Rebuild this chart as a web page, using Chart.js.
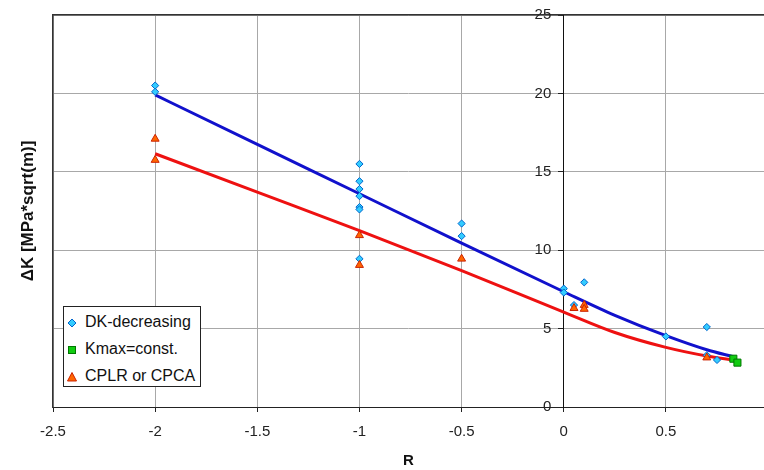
<!DOCTYPE html>
<html>
<head>
<meta charset="utf-8">
<script src="https://cdn.jsdelivr.net/npm/chart.js@4/dist/chart.umd.min.js"></script>
<style>
  body { margin: 0; background: #fff; }
  #wrap { position: relative; width: 764px; height: 470px; }
  #legend {
    position: absolute; left: 63px; top: 306px; width: 136px; height: 79px;
    border: 1px solid #222; background: #fff;
    font-family: "Liberation Sans", Arial, sans-serif; font-size: 16px; color: #111;
  }
  #legend div { position: absolute; left: 0; height: 20px; line-height: 20px; white-space: nowrap; }
  #legend svg { position: absolute; left: 2px; top: 5px; }
  #legend span { position: absolute; left: 21px; }
</style>
</head>
<body>
<div id="wrap">
  <canvas id="chart" width="764" height="470"></canvas>
  <div id="legend"></div>
</div>
<script>
// scatter data
const dkR = [-2, -2, -1, -1, -1, -1, -1, -1, -1, -0.5, -0.5, 0, 0, 0.05, 0.1, 0.5, 0.7, 0.7, 0.75];
const dkK = [20.5, 20.1, 15.5, 14.4, 13.9, 13.45, 12.75, 12.6, 9.45, 11.7, 10.9, 7.55, 7.3, 6.5, 7.95, 4.5, 5.1, 3.3, 3.0];

const kmR = [0.83, 0.85];
const kmK = [3.08, 2.83];

const cpR = [-2, -2, -1, -1, -0.5, 0.05, 0.1, 0.1, 0.7];
const cpK = [17.1, 15.75, 10.95, 9.05, 9.45, 6.3, 6.5, 6.25, 3.15];

// trend lines
const blueR = [-2, -1.5, -1, -0.5, 0, 0.25, 0.5, 0.7, 0.83];
const blueK = [19.9, 16.75, 13.6, 10.45, 7.35, 5.85, 4.55, 3.65, 3.2];
const redR = [-2, -1.5, -1, -0.5, 0, 0.25, 0.5, 0.7, 0.83];
const redK = [16.15, 13.7, 11.25, 8.7, 6.05, 4.75, 3.8, 3.25, 3.0];

const xTicks = [-2.5, -2, -1.5, -1, -0.5, 0, 0.5];
const yTicks = [0, 5, 10, 15, 20, 25];

const pts = (xs, ys) => xs.map((x, i) => ({ x: x, y: ys[i] }));
const FONT = '"Liberation Sans", Arial, sans-serif';

const series = [
  { label: 'DK-decreasing', data: pts(dkR, dkK), pointStyle: 'rectRot', radius: 3.6,
    bg: '#33ccff', border: '#0066cc' },
  { label: 'Kmax=const.', data: pts(kmR, kmK), pointStyle: 'rect', radius: 5,
    bg: '#11cc11', border: '#007700' },
  { label: 'CPLR or CPCA', data: pts(cpR, cpK), pointStyle: 'triangle', radius: 4.6,
    bg: '#ff6600', border: '#cc2200' }
];

const datasets = series.map((s, i) => ({
  label: s.label, data: s.data, showLine: false,
  pointStyle: s.pointStyle, pointRadius: s.radius, pointHoverRadius: s.radius,
  pointBackgroundColor: s.bg, pointBorderColor: s.border, pointBorderWidth: 1,
  order: 2 - i
}));
datasets.push({
  label: 'trend DK', data: pts(blueR, blueK), showLine: true, pointRadius: 0,
  borderColor: '#1111cc', borderWidth: 3, cubicInterpolationMode: 'monotone', order: 10
});
datasets.push({
  label: 'trend CP', data: pts(redR, redK), showLine: true, pointRadius: 0,
  borderColor: '#ee1111', borderWidth: 3, cubicInterpolationMode: 'monotone', order: 11
});

const keepTicks = (list) => (scale) => {
  scale.ticks = list.map(v => ({ value: v }));
};

new Chart(document.getElementById('chart'), {
  type: 'scatter',
  data: { datasets: datasets },
  options: {
    responsive: false,
    animation: false,
    layout: { autoPadding: false, padding: { top: 15, right: 0, bottom: 0, left: 5 } },
    plugins: { legend: { display: false }, tooltip: { enabled: false } },
    scales: {
      x: {
        type: 'linear', position: 'bottom', min: -2.5, max: 0.98,
        afterBuildTicks: keepTicks(xTicks),
        afterFit: (scale) => { scale.paddingRight = 0; },
        ticks: { font: { family: FONT, size: 15 }, color: '#222', padding: 11,
          callback: (v) => String(v) },
        grid: { color: '#a8a8a8', tickColor: '#222', tickLength: 5 },
        border: { color: '#222', width: 1 },
        title: { display: true, text: 'R', font: { family: FONT, size: 15, weight: 'bold' },
          color: '#111', padding: { top: 0, bottom: 0 } }
      },
      xTop: {
        type: 'linear', axis: 'x', position: 'top', min: -2.5, max: 0.98,
        ticks: { display: false },
        grid: { drawOnChartArea: false, drawTicks: false },
        border: { color: '#333', width: 1.5 }
      },
      y: {
        type: 'linear', position: { x: 0 }, min: 0, max: 25,
        afterBuildTicks: keepTicks(yTicks),
        // labels sit to the left of the axis line drawn at R = 0
        ticks: { font: { family: FONT, size: 15 }, color: '#222',
          callback: (v) => v + '   ' },
        grid: { color: '#a8a8a8', tickColor: '#222', tickLength: 5 },
        border: { color: '#111', width: 1 }
      },
      yTitle: {
        type: 'linear', axis: 'y', position: 'left', min: 0, max: 25,
        ticks: { display: false },
        grid: { drawOnChartArea: false, drawTicks: false },
        border: { color: '#333', width: 1.5 },
        title: { display: true, text: 'ΔK [MPa*sqrt(m)]',
          font: { family: FONT, size: 17, weight: 'bold' }, color: '#111',
          padding: { top: 13, bottom: 14.6 } }
      }
    }
  }
});

// legend in the lower-left corner of the plot
const svgFor = (s) => {
  if (s.pointStyle === 'rectRot')
    return `<svg width="12" height="12"><polygon points="6,2 10,6 6,10 2,6" fill="${s.bg}" stroke="${s.border}"/></svg>`;
  if (s.pointStyle === 'rect')
    return `<svg width="12" height="12"><rect x="2.5" y="2.5" width="7" height="7" fill="${s.bg}" stroke="${s.border}"/></svg>`;
  return `<svg width="12" height="12"><polygon points="6,1.5 10.5,10 1.5,10" fill="${s.bg}" stroke="${s.border}"/></svg>`;
};
const legend = document.getElementById('legend');
series.forEach((s, i) => {
  const row = document.createElement('div');
  row.style.top = (5 + i * 27) + 'px';
  row.innerHTML = svgFor(s) + `<span>${s.label}</span>`;
  legend.appendChild(row);
});
</script>
</body>
</html>
